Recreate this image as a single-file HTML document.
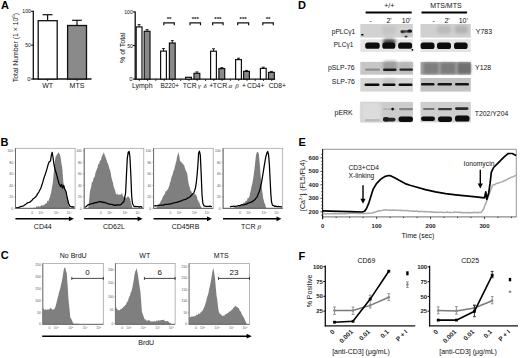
<!DOCTYPE html>
<html><head><meta charset="utf-8"><style>
html,body{margin:0;padding:0;background:#fff;}
body{width:520px;height:358px;overflow:hidden;}
svg{display:block;font-family:"Liberation Sans", sans-serif;}
</style></head><body>
<svg width="520" height="358" viewBox="0 0 520 358">
<defs>
<filter id="b1" x="-20%" y="-100%" width="140%" height="300%"><feGaussianBlur stdDeviation="0.75"/></filter>
<filter id="b15" x="-20%" y="-50%" width="140%" height="200%"><feGaussianBlur stdDeviation="1.0"/></filter>
<filter id="b2" x="-20%" y="-50%" width="140%" height="200%"><feGaussianBlur stdDeviation="1.4"/></filter>
</defs>
<rect width="520" height="358" fill="#fff"/>
<text x="0.90" y="8.60" font-size="11" text-anchor="start" font-weight="bold" fill="#000" >A</text>
<text x="0.40" y="145.50" font-size="11" text-anchor="start" font-weight="bold" fill="#000" >B</text>
<text x="0.70" y="259.40" font-size="11" text-anchor="start" font-weight="bold" fill="#000" >C</text>
<text x="297.90" y="8.60" font-size="11" text-anchor="start" font-weight="bold" fill="#000" >D</text>
<text x="298.40" y="145.50" font-size="11" text-anchor="start" font-weight="bold" fill="#000" >E</text>
<text x="298.40" y="260.30" font-size="11" text-anchor="start" font-weight="bold" fill="#000" >F</text>
<line x1="33.30" y1="10.80" x2="33.30" y2="79.60" stroke="#111" stroke-width="1.3" />
<line x1="32.80" y1="79.00" x2="91.50" y2="79.00" stroke="#111" stroke-width="1.3" />
<line x1="31.10" y1="11.30" x2="33.30" y2="11.30" stroke="#111" stroke-width="1.1" />
<line x1="31.10" y1="45.15" x2="33.30" y2="45.15" stroke="#111" stroke-width="1.1" />
<line x1="31.10" y1="79.00" x2="33.30" y2="79.00" stroke="#111" stroke-width="1.1" />
<text x="30.90" y="13.20" font-size="6.2" text-anchor="end" font-weight="normal" fill="#111"  textLength="8.60" lengthAdjust="spacingAndGlyphs">100</text>
<text x="30.90" y="47.45" font-size="6.2" text-anchor="end" font-weight="normal" fill="#111"  textLength="5.60" lengthAdjust="spacingAndGlyphs">50</text>
<text x="30.70" y="81.10" font-size="6.0" text-anchor="end" font-weight="normal" fill="#111" >0</text>
<rect x="38.20" y="20.70" width="19.00" height="58.30" fill="#fff" stroke="#111" stroke-width="1.3" />
<line x1="47.60" y1="20.70" x2="47.60" y2="14.70" stroke="#111" stroke-width="1.2" />
<line x1="42.60" y1="14.70" x2="52.50" y2="14.70" stroke="#111" stroke-width="1.2" />
<rect x="67.60" y="25.50" width="18.90" height="53.50" fill="#8a8a8a" stroke="#111" stroke-width="1.3" />
<line x1="77.00" y1="25.50" x2="77.00" y2="20.30" stroke="#111" stroke-width="1.2" />
<line x1="72.10" y1="20.30" x2="81.80" y2="20.30" stroke="#111" stroke-width="1.2" />
<line x1="47.60" y1="79.00" x2="47.60" y2="80.80" stroke="#111" stroke-width="1" />
<line x1="77.00" y1="79.00" x2="77.00" y2="80.80" stroke="#111" stroke-width="1" />
<text x="47.60" y="87.50" font-size="7" text-anchor="middle" font-weight="normal" fill="#111" >WT</text>
<text x="77.00" y="87.50" font-size="7" text-anchor="middle" font-weight="normal" fill="#111" >MTS</text>
<text x="0.00" y="0.00" font-size="6.9" text-anchor="middle" font-weight="normal" fill="#111" transform="translate(17.7,47.6) rotate(-90)">Total Number (1 &#215; 10<tspan font-size="4.4" dy="-3.0">6</tspan><tspan dy="3.0">)</tspan></text>
<line x1="135.20" y1="11.40" x2="135.20" y2="79.70" stroke="#111" stroke-width="1.3" />
<line x1="134.70" y1="79.10" x2="275.20" y2="79.10" stroke="#111" stroke-width="1.3" />
<line x1="133.00" y1="11.90" x2="135.20" y2="11.90" stroke="#111" stroke-width="1.1" />
<line x1="133.00" y1="45.50" x2="135.20" y2="45.50" stroke="#111" stroke-width="1.1" />
<line x1="133.00" y1="79.10" x2="135.20" y2="79.10" stroke="#111" stroke-width="1.1" />
<text x="132.80" y="13.90" font-size="6.2" text-anchor="end" font-weight="normal" fill="#111"  textLength="8.60" lengthAdjust="spacingAndGlyphs">100</text>
<text x="132.80" y="47.70" font-size="6.2" text-anchor="end" font-weight="normal" fill="#111"  textLength="5.60" lengthAdjust="spacingAndGlyphs">50</text>
<text x="132.60" y="81.20" font-size="6.0" text-anchor="end" font-weight="normal" fill="#111" >0</text>
<text x="0.00" y="0.00" font-size="7.3" text-anchor="middle" font-weight="normal" fill="#111" transform="translate(124.9,47.7) rotate(-90)" textLength="30.40" lengthAdjust="spacingAndGlyphs">% of Total</text>
<rect x="136.20" y="26.90" width="5.80" height="52.20" fill="#fff" stroke="#111" stroke-width="1.2" />
<rect x="144.20" y="31.30" width="5.80" height="47.80" fill="#8a8a8a" stroke="#111" stroke-width="1.2" />
<line x1="139.10" y1="26.90" x2="139.10" y2="24.60" stroke="#111" stroke-width="0.9" />
<line x1="137.60" y1="24.60" x2="140.60" y2="24.60" stroke="#111" stroke-width="0.9" />
<line x1="147.10" y1="31.30" x2="147.10" y2="29.60" stroke="#111" stroke-width="0.9" />
<line x1="145.60" y1="29.60" x2="148.60" y2="29.60" stroke="#111" stroke-width="0.9" />
<rect x="160.60" y="51.10" width="5.80" height="28.00" fill="#fff" stroke="#111" stroke-width="1.2" />
<rect x="169.40" y="43.00" width="5.80" height="36.10" fill="#8a8a8a" stroke="#111" stroke-width="1.2" />
<line x1="163.50" y1="51.10" x2="163.50" y2="48.60" stroke="#111" stroke-width="0.9" />
<line x1="162.00" y1="48.60" x2="165.00" y2="48.60" stroke="#111" stroke-width="0.9" />
<line x1="172.30" y1="43.00" x2="172.30" y2="40.60" stroke="#111" stroke-width="0.9" />
<line x1="170.80" y1="40.60" x2="173.80" y2="40.60" stroke="#111" stroke-width="0.9" />
<rect x="185.60" y="77.30" width="5.80" height="1.80" fill="#fff" stroke="#111" stroke-width="1.2" />
<rect x="194.00" y="73.30" width="5.80" height="5.80" fill="#8a8a8a" stroke="#111" stroke-width="1.2" />
<line x1="196.90" y1="73.30" x2="196.90" y2="71.90" stroke="#111" stroke-width="0.9" />
<line x1="195.40" y1="71.90" x2="198.40" y2="71.90" stroke="#111" stroke-width="0.9" />
<rect x="210.60" y="51.20" width="5.80" height="27.90" fill="#fff" stroke="#111" stroke-width="1.2" />
<rect x="218.90" y="68.60" width="5.80" height="10.50" fill="#8a8a8a" stroke="#111" stroke-width="1.2" />
<line x1="213.50" y1="51.20" x2="213.50" y2="48.80" stroke="#111" stroke-width="0.9" />
<line x1="212.00" y1="48.80" x2="215.00" y2="48.80" stroke="#111" stroke-width="0.9" />
<line x1="221.80" y1="68.60" x2="221.80" y2="67.60" stroke="#111" stroke-width="0.9" />
<line x1="220.30" y1="67.60" x2="223.30" y2="67.60" stroke="#111" stroke-width="0.9" />
<rect x="235.60" y="59.60" width="5.80" height="19.50" fill="#fff" stroke="#111" stroke-width="1.2" />
<rect x="243.60" y="71.40" width="5.80" height="7.70" fill="#8a8a8a" stroke="#111" stroke-width="1.2" />
<line x1="238.50" y1="59.60" x2="238.50" y2="58.20" stroke="#111" stroke-width="0.9" />
<line x1="237.00" y1="58.20" x2="240.00" y2="58.20" stroke="#111" stroke-width="0.9" />
<line x1="246.50" y1="71.40" x2="246.50" y2="70.40" stroke="#111" stroke-width="0.9" />
<line x1="245.00" y1="70.40" x2="248.00" y2="70.40" stroke="#111" stroke-width="0.9" />
<rect x="260.40" y="68.40" width="5.80" height="10.70" fill="#fff" stroke="#111" stroke-width="1.2" />
<rect x="268.50" y="72.40" width="5.80" height="6.70" fill="#8a8a8a" stroke="#111" stroke-width="1.2" />
<line x1="263.30" y1="68.40" x2="263.30" y2="67.20" stroke="#111" stroke-width="0.9" />
<line x1="261.80" y1="67.20" x2="264.80" y2="67.20" stroke="#111" stroke-width="0.9" />
<line x1="271.40" y1="72.40" x2="271.40" y2="71.40" stroke="#111" stroke-width="0.9" />
<line x1="269.90" y1="71.40" x2="272.90" y2="71.40" stroke="#111" stroke-width="0.9" />
<line x1="139.30" y1="79.10" x2="139.30" y2="80.90" stroke="#111" stroke-width="0.9" />
<line x1="147.58" y1="79.10" x2="147.58" y2="80.90" stroke="#111" stroke-width="0.9" />
<line x1="155.86" y1="79.10" x2="155.86" y2="80.90" stroke="#111" stroke-width="0.9" />
<line x1="164.14" y1="79.10" x2="164.14" y2="80.90" stroke="#111" stroke-width="0.9" />
<line x1="172.42" y1="79.10" x2="172.42" y2="80.90" stroke="#111" stroke-width="0.9" />
<line x1="180.70" y1="79.10" x2="180.70" y2="80.90" stroke="#111" stroke-width="0.9" />
<line x1="188.98" y1="79.10" x2="188.98" y2="80.90" stroke="#111" stroke-width="0.9" />
<line x1="197.26" y1="79.10" x2="197.26" y2="80.90" stroke="#111" stroke-width="0.9" />
<line x1="205.54" y1="79.10" x2="205.54" y2="80.90" stroke="#111" stroke-width="0.9" />
<line x1="213.82" y1="79.10" x2="213.82" y2="80.90" stroke="#111" stroke-width="0.9" />
<line x1="222.10" y1="79.10" x2="222.10" y2="80.90" stroke="#111" stroke-width="0.9" />
<line x1="230.38" y1="79.10" x2="230.38" y2="80.90" stroke="#111" stroke-width="0.9" />
<line x1="238.66" y1="79.10" x2="238.66" y2="80.90" stroke="#111" stroke-width="0.9" />
<line x1="246.94" y1="79.10" x2="246.94" y2="80.90" stroke="#111" stroke-width="0.9" />
<line x1="255.22" y1="79.10" x2="255.22" y2="80.90" stroke="#111" stroke-width="0.9" />
<line x1="263.50" y1="79.10" x2="263.50" y2="80.90" stroke="#111" stroke-width="0.9" />
<line x1="271.78" y1="79.10" x2="271.78" y2="80.90" stroke="#111" stroke-width="0.9" />
<path d="M163.80,25.2 L163.80,22.9 L174.30,22.9 L174.30,25.2" fill="none" stroke="#111" stroke-width="1.2" />
<text x="169.05" y="21.20" font-size="6.2" text-anchor="middle" font-weight="bold" fill="#111" >**</text>
<path d="M190.00,25.2 L190.00,22.9 L200.50,22.9 L200.50,25.2" fill="none" stroke="#111" stroke-width="1.2" />
<text x="195.25" y="21.20" font-size="6.2" text-anchor="middle" font-weight="bold" fill="#111" >***</text>
<path d="M212.60,25.2 L212.60,22.9 L223.10,22.9 L223.10,25.2" fill="none" stroke="#111" stroke-width="1.2" />
<text x="217.85" y="21.20" font-size="6.2" text-anchor="middle" font-weight="bold" fill="#111" >***</text>
<path d="M237.70,25.2 L237.70,22.9 L248.60,22.9 L248.60,25.2" fill="none" stroke="#111" stroke-width="1.2" />
<text x="243.15" y="21.20" font-size="6.2" text-anchor="middle" font-weight="bold" fill="#111" >***</text>
<path d="M262.80,25.2 L262.80,22.9 L273.30,22.9 L273.30,25.2" fill="none" stroke="#111" stroke-width="1.2" />
<text x="268.05" y="21.20" font-size="6.2" text-anchor="middle" font-weight="bold" fill="#111" >**</text>
<text x="132.00" y="87.70" font-size="6.8" text-anchor="start" font-weight="normal" fill="#111"  textLength="20.60" lengthAdjust="spacingAndGlyphs">Lymph</text>
<text x="160.40" y="87.70" font-size="6.8" text-anchor="start" font-weight="normal" fill="#111"  textLength="18.60" lengthAdjust="spacingAndGlyphs">B220+</text>
<text x="182.70" y="87.70" font-size="6.8" text-anchor="start" font-weight="normal" fill="#111"  textLength="14.00" lengthAdjust="spacingAndGlyphs">TCR</text>
<text x="198.10" y="87.70" font-size="7" text-anchor="start" font-weight="normal" fill="#222" font-family="Liberation Serif" font-style="italic">&#947;</text>
<text x="203.60" y="87.70" font-size="7" text-anchor="start" font-weight="normal" fill="#222" font-family="Liberation Serif" font-style="italic">&#948;</text>
<text x="209.30" y="87.70" font-size="6.8" text-anchor="start" font-weight="normal" fill="#111" >+</text>
<text x="212.80" y="87.70" font-size="6.8" text-anchor="start" font-weight="normal" fill="#111"  textLength="14.40" lengthAdjust="spacingAndGlyphs">TCR</text>
<text x="228.50" y="87.70" font-size="7" text-anchor="start" font-weight="normal" fill="#222" font-family="Liberation Serif" font-style="italic">&#945;</text>
<text x="235.30" y="87.70" font-size="7" text-anchor="start" font-weight="normal" fill="#222" font-family="Liberation Serif" font-style="italic">&#946;</text>
<text x="242.10" y="87.70" font-size="6.8" text-anchor="start" font-weight="normal" fill="#111" >+</text>
<text x="247.10" y="87.70" font-size="6.8" text-anchor="start" font-weight="normal" fill="#111"  textLength="17.40" lengthAdjust="spacingAndGlyphs">CD4+</text>
<text x="268.70" y="87.70" font-size="6.8" text-anchor="start" font-weight="normal" fill="#111"  textLength="17.30" lengthAdjust="spacingAndGlyphs">CD8+</text>
<path d="M33.00,208.30 L33.50,207.47 L34.00,208.11 L34.50,207.51 L35.00,207.97 L35.50,207.88 L36.00,207.40 L36.52,206.09 L37.03,205.78 L37.55,207.75 L38.06,206.07 L38.58,205.82 L39.09,207.63 L39.61,206.08 L40.12,206.86 L40.64,205.75 L41.15,205.99 L41.67,204.55 L42.18,205.63 L42.70,205.10 L43.20,205.81 L43.70,204.67 L44.20,205.00 L44.70,204.57 L45.20,202.75 L45.70,204.31 L46.20,203.40 L46.72,202.96 L47.24,201.52 L47.76,200.14 L48.28,201.63 L48.80,200.00 L49.37,198.20 L49.93,197.10 L50.50,194.80 L51.07,192.88 L51.63,189.56 L52.20,186.10 L52.70,183.64 L53.20,179.00 L53.70,173.06 L54.20,168.45 L54.70,162.00 L55.25,158.86 L55.80,156.00 L56.40,155.88 L57.00,153.50 L57.60,154.24 L58.20,153.00 L58.70,152.25 L59.20,153.60 L59.73,154.25 L60.27,156.06 L60.80,158.40 L61.50,163.91 L62.20,167.00 L62.80,174.68 L63.40,182.70 L63.95,184.75 L64.50,185.63 L65.05,187.89 L65.60,189.60 L66.12,191.90 L66.65,194.41 L67.17,197.62 L67.70,200.00 L68.30,202.52 L68.90,205.65 L69.50,206.90 L70.00,208.07 L70.50,208.30 Z" fill="#7f7f7f" stroke="none" stroke-width="1" />
<path d="M15.90,207.70 L16.76,207.84 L17.62,207.63 L18.48,207.56 L19.34,207.18 L20.20,206.90 L21.06,206.30 L21.92,206.43 L22.78,206.15 L23.64,205.74 L24.50,205.10 L25.37,204.48 L26.23,203.92 L27.10,203.10 L28.00,202.60 L28.90,202.50 L29.77,202.17 L30.63,201.42 L31.50,200.80 L32.33,199.78 L33.17,198.76 L34.00,198.20 L34.87,197.58 L35.73,196.81 L36.60,195.60 L37.47,193.88 L38.33,192.94 L39.20,191.30 L40.10,189.49 L41.00,187.80 L41.85,184.96 L42.70,182.60 L43.55,179.46 L44.40,176.60 L45.30,174.19 L46.20,171.40 L47.05,168.61 L47.90,165.30 L49.10,161.90 L50.50,161.00 L51.40,154.90 L52.20,152.30 L53.10,158.00 L54.00,164.50 L55.20,170.00 L56.50,174.00 L58.00,180.00 L59.00,183.50 L60.50,186.50 L61.50,184.50 L62.50,188.00 L63.60,185.50 L64.60,189.00 L66.00,191.30 L67.20,197.50 L68.60,203.50 L70.00,206.20 L71.20,206.90 L72.03,206.66 L72.85,207.13 L73.67,206.81 L74.50,207.20" fill="none" stroke="#000" stroke-width="1.25" stroke-linejoin="round"/>
<rect x="15.50" y="148.30" width="59.60" height="60.00" fill="none" stroke="#9a9a9a" stroke-width="0.7" />
<line x1="15.50" y1="148.30" x2="15.50" y2="208.30" stroke="#555" stroke-width="0.8" />
<line x1="15.50" y1="208.30" x2="75.10" y2="208.30" stroke="#444" stroke-width="0.8" />
<text x="13.00" y="152.00" font-size="3.3" text-anchor="end" font-weight="normal" fill="#555" >100</text>
<line x1="14.30" y1="150.80" x2="15.50" y2="150.80" stroke="#666" stroke-width="0.5" />
<text x="13.00" y="163.52" font-size="3.3" text-anchor="end" font-weight="normal" fill="#555" >80</text>
<line x1="14.30" y1="162.32" x2="15.50" y2="162.32" stroke="#666" stroke-width="0.5" />
<text x="13.00" y="175.04" font-size="3.3" text-anchor="end" font-weight="normal" fill="#555" >60</text>
<line x1="14.30" y1="173.84" x2="15.50" y2="173.84" stroke="#666" stroke-width="0.5" />
<text x="13.00" y="186.56" font-size="3.3" text-anchor="end" font-weight="normal" fill="#555" >40</text>
<line x1="14.30" y1="185.36" x2="15.50" y2="185.36" stroke="#666" stroke-width="0.5" />
<text x="13.00" y="198.08" font-size="3.3" text-anchor="end" font-weight="normal" fill="#555" >20</text>
<line x1="14.30" y1="196.88" x2="15.50" y2="196.88" stroke="#666" stroke-width="0.5" />
<text x="13.00" y="209.60" font-size="3.3" text-anchor="end" font-weight="normal" fill="#555" >0</text>
<line x1="14.30" y1="208.40" x2="15.50" y2="208.40" stroke="#666" stroke-width="0.5" />
<text x="32.20" y="214.00" font-size="3.3" text-anchor="middle" font-weight="normal" fill="#666" >0</text>
<text x="41.00" y="214.00" font-size="3.3" text-anchor="middle" font-weight="normal" fill="#666" >10<tspan font-size="2.2" dy="-1">2</tspan></text>
<text x="56.40" y="214.00" font-size="3.3" text-anchor="middle" font-weight="normal" fill="#666" >10<tspan font-size="2.2" dy="-1">3</tspan></text>
<text x="69.20" y="214.00" font-size="3.3" text-anchor="middle" font-weight="normal" fill="#666" >10<tspan font-size="2.2" dy="-1">4</tspan></text>
<line x1="15.40" y1="218.80" x2="70.40" y2="218.80" stroke="#000" stroke-width="1.6" />
<path d="M73.90,218.8 L68.90,216.4 L68.90,221.2 Z" fill="#000" stroke="none" stroke-width="1" />
<path d="M88.30,208.30 L88.90,202.93 L89.50,195.99 L90.10,190.50 L90.67,188.89 L91.23,186.55 L91.80,182.70 L92.32,181.67 L92.84,181.92 L93.36,179.09 L93.88,177.44 L94.40,177.50 L94.92,176.02 L95.44,172.80 L95.96,171.49 L96.48,170.30 L97.00,168.80 L97.52,167.71 L98.04,165.15 L98.56,163.47 L99.08,164.24 L99.60,161.90 L100.12,160.20 L100.64,160.65 L101.16,159.27 L101.68,156.70 L102.20,155.80 L102.77,154.53 L103.33,153.52 L103.90,152.30 L104.50,154.41 L105.10,156.02 L105.70,157.50 L106.22,159.05 L106.74,160.61 L107.26,162.85 L107.78,163.12 L108.30,164.50 L108.82,166.22 L109.34,168.87 L109.86,169.52 L110.38,171.58 L110.90,174.00 L111.42,177.66 L111.94,178.89 L112.46,181.39 L112.98,182.41 L113.50,186.10 L114.02,187.44 L114.54,189.43 L115.06,189.53 L115.58,192.64 L116.10,193.90 L116.62,194.42 L117.14,193.12 L117.66,194.77 L118.18,194.53 L118.70,194.80 L119.22,195.09 L119.74,194.06 L120.26,194.80 L120.78,194.70 L121.30,193.90 L121.82,193.18 L122.34,193.80 L122.86,195.92 L123.38,197.18 L123.90,196.50 L124.42,196.21 L124.94,197.11 L125.46,197.82 L125.98,197.47 L126.50,198.30 L127.07,197.35 L127.63,196.61 L128.20,196.50 L128.77,196.76 L129.33,197.95 L129.90,198.30 L130.50,200.38 L131.10,203.50 L131.80,205.58 L132.50,208.30 Z" fill="#7f7f7f" stroke="none" stroke-width="1" />
<path d="M84.60,207.20 L85.70,206.80 L86.58,206.37 L87.45,205.22 L88.33,204.97 L89.20,204.30 L90.07,204.26 L90.93,203.77 L91.80,203.51 L92.67,203.71 L93.53,203.12 L94.40,203.10 L95.27,202.65 L96.13,202.59 L97.00,202.54 L97.87,201.89 L98.73,201.81 L99.60,201.70 L100.47,201.68 L101.35,202.13 L102.22,201.96 L103.10,202.10 L103.95,202.60 L104.80,202.37 L105.65,202.74 L106.50,203.10 L107.38,203.51 L108.25,203.97 L109.12,203.97 L110.00,204.30 L110.87,204.26 L111.73,204.33 L112.60,204.77 L113.47,204.68 L114.33,205.26 L115.20,205.20 L116.07,205.37 L116.93,204.85 L117.80,204.85 L118.67,205.15 L119.53,204.97 L120.40,204.80 L121.28,204.24 L122.15,203.14 L123.03,202.22 L123.90,201.70 L124.75,197.25 L125.60,193.10 L126.50,174.00 L127.30,158.40 L128.20,152.30 L129.10,151.50 L129.90,156.70 L130.80,174.00 L131.70,196.50 L132.50,203.50 L133.40,205.26 L134.30,206.60 L135.12,206.48 L135.94,206.57 L136.76,206.66 L137.58,206.70 L138.40,206.74 L139.22,207.13 L140.04,206.64 L140.86,206.57 L141.68,207.27 L142.50,207.00" fill="none" stroke="#000" stroke-width="1.25" stroke-linejoin="round"/>
<rect x="84.20" y="148.30" width="59.60" height="60.00" fill="none" stroke="#9a9a9a" stroke-width="0.7" />
<line x1="84.20" y1="148.30" x2="84.20" y2="208.30" stroke="#555" stroke-width="0.8" />
<line x1="84.20" y1="208.30" x2="143.80" y2="208.30" stroke="#444" stroke-width="0.8" />
<text x="81.70" y="152.00" font-size="3.3" text-anchor="end" font-weight="normal" fill="#555" >100</text>
<line x1="83.00" y1="150.80" x2="84.20" y2="150.80" stroke="#666" stroke-width="0.5" />
<text x="81.70" y="163.52" font-size="3.3" text-anchor="end" font-weight="normal" fill="#555" >80</text>
<line x1="83.00" y1="162.32" x2="84.20" y2="162.32" stroke="#666" stroke-width="0.5" />
<text x="81.70" y="175.04" font-size="3.3" text-anchor="end" font-weight="normal" fill="#555" >60</text>
<line x1="83.00" y1="173.84" x2="84.20" y2="173.84" stroke="#666" stroke-width="0.5" />
<text x="81.70" y="186.56" font-size="3.3" text-anchor="end" font-weight="normal" fill="#555" >40</text>
<line x1="83.00" y1="185.36" x2="84.20" y2="185.36" stroke="#666" stroke-width="0.5" />
<text x="81.70" y="198.08" font-size="3.3" text-anchor="end" font-weight="normal" fill="#555" >20</text>
<line x1="83.00" y1="196.88" x2="84.20" y2="196.88" stroke="#666" stroke-width="0.5" />
<text x="81.70" y="209.60" font-size="3.3" text-anchor="end" font-weight="normal" fill="#555" >0</text>
<line x1="83.00" y1="208.40" x2="84.20" y2="208.40" stroke="#666" stroke-width="0.5" />
<text x="100.90" y="214.00" font-size="3.3" text-anchor="middle" font-weight="normal" fill="#666" >0</text>
<text x="109.70" y="214.00" font-size="3.3" text-anchor="middle" font-weight="normal" fill="#666" >10<tspan font-size="2.2" dy="-1">2</tspan></text>
<text x="125.10" y="214.00" font-size="3.3" text-anchor="middle" font-weight="normal" fill="#666" >10<tspan font-size="2.2" dy="-1">3</tspan></text>
<text x="137.90" y="214.00" font-size="3.3" text-anchor="middle" font-weight="normal" fill="#666" >10<tspan font-size="2.2" dy="-1">4</tspan></text>
<line x1="84.10" y1="218.80" x2="139.10" y2="218.80" stroke="#000" stroke-width="1.6" />
<path d="M142.60,218.8 L137.60,216.4 L137.60,221.2 Z" fill="#000" stroke="none" stroke-width="1" />
<path d="M155.60,208.30 L156.11,208.60 L156.62,208.18 L157.12,206.05 L157.63,206.70 L158.14,205.95 L158.65,203.43 L159.16,204.10 L159.67,203.64 L160.17,202.50 L160.68,201.43 L161.19,200.14 L161.70,200.00 L162.24,198.50 L162.77,197.12 L163.31,195.61 L163.85,195.88 L164.39,194.01 L164.93,194.28 L165.46,191.20 L166.00,191.30 L166.50,191.49 L167.00,190.09 L167.50,189.83 L168.00,188.90 L168.50,188.05 L169.00,186.36 L169.50,185.30 L170.02,182.11 L170.54,182.10 L171.06,178.69 L171.58,177.10 L172.10,175.70 L172.62,174.40 L173.14,172.32 L173.66,170.32 L174.18,169.96 L174.70,167.10 L175.27,165.36 L175.83,162.62 L176.40,161.00 L177.00,157.31 L177.60,154.90 L178.10,154.29 L178.60,151.80 L179.25,155.89 L179.90,160.10 L180.47,161.70 L181.03,161.45 L181.60,162.70 L182.12,162.43 L182.64,163.83 L183.16,165.08 L183.68,163.93 L184.20,165.30 L184.72,167.46 L185.24,169.20 L185.76,170.30 L186.28,171.74 L186.80,172.30 L187.37,174.49 L187.93,179.57 L188.50,182.70 L189.10,186.24 L189.70,186.73 L190.30,190.50 L190.82,190.59 L191.34,191.26 L191.86,192.61 L192.38,193.02 L192.90,193.90 L193.42,194.01 L193.94,194.98 L194.46,193.14 L194.98,193.46 L195.50,194.80 L196.02,194.87 L196.54,195.90 L197.06,196.80 L197.58,200.19 L198.10,200.00 L198.67,202.35 L199.23,201.79 L199.80,204.30 L200.37,205.64 L200.93,206.49 L201.50,208.30 Z" fill="#7f7f7f" stroke="none" stroke-width="1" />
<path d="M153.90,206.00 L154.77,205.78 L155.63,205.72 L156.50,205.84 L157.37,205.71 L158.23,205.46 L159.10,205.25 L159.97,205.26 L160.83,205.03 L161.70,205.20 L162.56,205.10 L163.42,205.07 L164.28,204.70 L165.14,204.35 L166.00,204.27 L166.86,204.27 L167.72,204.29 L168.58,204.28 L169.44,203.86 L170.30,203.80 L171.17,203.80 L172.04,203.47 L172.91,203.12 L173.78,202.87 L174.65,202.75 L175.52,202.68 L176.39,202.27 L177.26,202.26 L178.13,201.88 L179.00,201.70 L179.86,201.20 L180.72,201.08 L181.59,200.86 L182.45,200.10 L183.31,200.02 L184.18,199.70 L185.04,199.69 L185.90,199.10 L186.78,198.89 L187.66,197.97 L188.54,197.82 L189.42,197.22 L190.30,196.50 L191.15,195.48 L192.00,194.77 L192.85,193.69 L193.70,193.10 L194.60,190.72 L195.50,187.90 L196.30,182.70 L197.20,174.00 L198.10,161.90 L198.60,153.20 L199.40,151.10 L200.30,154.90 L201.20,174.00 L202.00,194.80 L202.90,203.50 L204.10,206.00 L204.97,206.17 L205.83,206.38 L206.70,206.37 L207.57,206.34 L208.43,206.44 L209.30,206.38 L210.17,206.11 L211.03,206.51 L211.90,206.50" fill="none" stroke="#000" stroke-width="1.25" stroke-linejoin="round"/>
<rect x="153.60" y="148.30" width="59.60" height="60.00" fill="none" stroke="#9a9a9a" stroke-width="0.7" />
<line x1="153.60" y1="148.30" x2="153.60" y2="208.30" stroke="#555" stroke-width="0.8" />
<line x1="153.60" y1="208.30" x2="213.20" y2="208.30" stroke="#444" stroke-width="0.8" />
<text x="151.10" y="152.00" font-size="3.3" text-anchor="end" font-weight="normal" fill="#555" >100</text>
<line x1="152.40" y1="150.80" x2="153.60" y2="150.80" stroke="#666" stroke-width="0.5" />
<text x="151.10" y="163.52" font-size="3.3" text-anchor="end" font-weight="normal" fill="#555" >80</text>
<line x1="152.40" y1="162.32" x2="153.60" y2="162.32" stroke="#666" stroke-width="0.5" />
<text x="151.10" y="175.04" font-size="3.3" text-anchor="end" font-weight="normal" fill="#555" >60</text>
<line x1="152.40" y1="173.84" x2="153.60" y2="173.84" stroke="#666" stroke-width="0.5" />
<text x="151.10" y="186.56" font-size="3.3" text-anchor="end" font-weight="normal" fill="#555" >40</text>
<line x1="152.40" y1="185.36" x2="153.60" y2="185.36" stroke="#666" stroke-width="0.5" />
<text x="151.10" y="198.08" font-size="3.3" text-anchor="end" font-weight="normal" fill="#555" >20</text>
<line x1="152.40" y1="196.88" x2="153.60" y2="196.88" stroke="#666" stroke-width="0.5" />
<text x="151.10" y="209.60" font-size="3.3" text-anchor="end" font-weight="normal" fill="#555" >0</text>
<line x1="152.40" y1="208.40" x2="153.60" y2="208.40" stroke="#666" stroke-width="0.5" />
<text x="170.30" y="214.00" font-size="3.3" text-anchor="middle" font-weight="normal" fill="#666" >0</text>
<text x="179.10" y="214.00" font-size="3.3" text-anchor="middle" font-weight="normal" fill="#666" >10<tspan font-size="2.2" dy="-1">2</tspan></text>
<text x="194.50" y="214.00" font-size="3.3" text-anchor="middle" font-weight="normal" fill="#666" >10<tspan font-size="2.2" dy="-1">3</tspan></text>
<text x="207.30" y="214.00" font-size="3.3" text-anchor="middle" font-weight="normal" fill="#666" >10<tspan font-size="2.2" dy="-1">4</tspan></text>
<line x1="153.50" y1="218.80" x2="208.50" y2="218.80" stroke="#000" stroke-width="1.6" />
<path d="M212.00,218.8 L207.00,216.4 L207.00,221.2 Z" fill="#000" stroke="none" stroke-width="1" />
<path d="M233.40,208.30 L233.93,206.77 L234.46,206.90 L234.99,208.30 L235.52,206.16 L236.05,206.05 L236.58,205.83 L237.12,207.62 L237.65,205.56 L238.18,204.91 L238.71,206.80 L239.24,204.69 L239.77,206.33 L240.30,205.20 L240.82,205.30 L241.34,205.37 L241.86,205.33 L242.38,204.01 L242.90,204.23 L243.42,201.89 L243.94,203.45 L244.46,202.43 L244.98,202.61 L245.50,201.70 L246.00,200.06 L246.50,201.12 L247.00,200.99 L247.50,198.10 L248.00,198.17 L248.50,198.18 L249.00,197.40 L249.57,196.22 L250.13,192.66 L250.70,191.30 L251.30,187.60 L251.90,184.92 L252.50,182.70 L253.15,178.65 L253.80,174.00 L254.45,169.46 L255.10,163.60 L255.90,155.80 L256.80,152.30 L257.70,151.80 L258.30,152.67 L258.90,154.10 L259.70,163.60 L260.25,170.21 L260.80,177.50 L261.40,183.28 L262.00,189.60 L262.60,193.56 L263.20,198.30 L263.90,200.69 L264.60,203.50 L265.17,204.02 L265.73,206.70 L266.30,208.30 Z" fill="#7f7f7f" stroke="none" stroke-width="1" />
<path d="M229.90,206.50 L230.78,206.77 L231.65,206.31 L232.53,206.49 L233.40,206.01 L234.28,206.32 L235.15,206.30 L236.03,206.18 L236.90,206.00 L237.76,205.84 L238.62,205.65 L239.48,205.59 L240.34,205.60 L241.20,204.90 L242.06,204.70 L242.92,204.98 L243.78,204.93 L244.64,204.48 L245.50,204.30 L246.38,203.94 L247.25,203.80 L248.12,203.11 L249.00,202.84 L249.88,202.46 L250.75,202.41 L251.62,201.90 L252.50,201.70 L253.36,200.65 L254.22,200.11 L255.08,199.44 L255.94,198.12 L256.80,197.40 L257.67,195.51 L258.53,193.27 L259.40,191.30 L260.45,187.25 L261.50,182.70 L262.35,177.56 L263.20,172.30 L264.60,163.60 L265.80,156.70 L267.20,152.30 L267.70,151.50 L268.60,154.90 L269.40,165.30 L270.10,179.20 L270.80,193.10 L271.50,201.70 L272.40,205.20 L273.27,205.47 L274.13,205.87 L275.00,206.50 L275.88,206.20 L276.75,206.56 L277.62,206.53 L278.50,206.42 L279.38,206.59 L280.25,206.60 L281.12,206.95 L282.00,206.80" fill="none" stroke="#000" stroke-width="1.25" stroke-linejoin="round"/>
<rect x="223.10" y="148.30" width="59.60" height="60.00" fill="none" stroke="#9a9a9a" stroke-width="0.7" />
<line x1="223.10" y1="148.30" x2="223.10" y2="208.30" stroke="#555" stroke-width="0.8" />
<line x1="223.10" y1="208.30" x2="282.70" y2="208.30" stroke="#444" stroke-width="0.8" />
<text x="220.60" y="152.00" font-size="3.3" text-anchor="end" font-weight="normal" fill="#555" >100</text>
<line x1="221.90" y1="150.80" x2="223.10" y2="150.80" stroke="#666" stroke-width="0.5" />
<text x="220.60" y="163.52" font-size="3.3" text-anchor="end" font-weight="normal" fill="#555" >80</text>
<line x1="221.90" y1="162.32" x2="223.10" y2="162.32" stroke="#666" stroke-width="0.5" />
<text x="220.60" y="175.04" font-size="3.3" text-anchor="end" font-weight="normal" fill="#555" >60</text>
<line x1="221.90" y1="173.84" x2="223.10" y2="173.84" stroke="#666" stroke-width="0.5" />
<text x="220.60" y="186.56" font-size="3.3" text-anchor="end" font-weight="normal" fill="#555" >40</text>
<line x1="221.90" y1="185.36" x2="223.10" y2="185.36" stroke="#666" stroke-width="0.5" />
<text x="220.60" y="198.08" font-size="3.3" text-anchor="end" font-weight="normal" fill="#555" >20</text>
<line x1="221.90" y1="196.88" x2="223.10" y2="196.88" stroke="#666" stroke-width="0.5" />
<text x="220.60" y="209.60" font-size="3.3" text-anchor="end" font-weight="normal" fill="#555" >0</text>
<line x1="221.90" y1="208.40" x2="223.10" y2="208.40" stroke="#666" stroke-width="0.5" />
<text x="239.80" y="214.00" font-size="3.3" text-anchor="middle" font-weight="normal" fill="#666" >0</text>
<text x="248.60" y="214.00" font-size="3.3" text-anchor="middle" font-weight="normal" fill="#666" >10<tspan font-size="2.2" dy="-1">2</tspan></text>
<text x="264.00" y="214.00" font-size="3.3" text-anchor="middle" font-weight="normal" fill="#666" >10<tspan font-size="2.2" dy="-1">3</tspan></text>
<text x="276.80" y="214.00" font-size="3.3" text-anchor="middle" font-weight="normal" fill="#666" >10<tspan font-size="2.2" dy="-1">4</tspan></text>
<line x1="223.00" y1="218.80" x2="278.00" y2="218.80" stroke="#000" stroke-width="1.6" />
<path d="M281.50,218.8 L276.50,216.4 L276.50,221.2 Z" fill="#000" stroke="none" stroke-width="1" />
<text x="42.80" y="228.90" font-size="7" text-anchor="middle" font-weight="normal" fill="#111" >CD44</text>
<text x="113.90" y="228.90" font-size="7" text-anchor="middle" font-weight="normal" fill="#111" >CD62L</text>
<text x="185.50" y="228.90" font-size="7" text-anchor="middle" font-weight="normal" fill="#111" >CD45RB</text>
<text x="251.00" y="228.90" font-size="7" text-anchor="middle" font-weight="normal" fill="#111" >TCR <tspan font-family="Liberation Serif" font-style="italic">&#946;</tspan></text>
<path d="M42.80,324.30 L42.80,308.60 L43.53,308.26 L44.27,310.08 L45.00,309.50 L45.77,309.53 L46.53,309.81 L47.30,309.70 L47.96,309.32 L48.62,309.66 L49.28,309.32 L49.94,308.52 L50.60,308.10 L51.28,308.39 L51.96,309.14 L52.64,309.70 L53.32,309.20 L54.00,309.70 L54.73,308.25 L55.47,306.80 L56.20,304.10 L56.93,301.07 L57.67,297.68 L58.40,295.20 L59.17,291.76 L59.93,289.66 L60.70,286.30 L61.43,282.88 L62.17,279.66 L62.90,275.10 L64.00,268.40 L65.10,267.30 L65.90,270.74 L66.70,272.90 L67.60,285.00 L68.50,299.60 L69.40,308.09 L70.30,317.50 L70.97,318.34 L71.65,319.87 L72.33,321.14 L73.00,323.10 L73.66,323.59 L74.32,323.99 L74.98,324.18 L75.64,323.14 L76.30,324.36 L76.96,323.48 L77.62,323.80 L78.28,324.47 L78.94,323.43 L79.60,324.30 Z" fill="#7f7f7f" stroke="none" stroke-width="1" />
<rect x="42.80" y="263.50" width="60.50" height="60.80" fill="none" stroke="#9a9a9a" stroke-width="0.7" />
<line x1="42.80" y1="263.50" x2="42.80" y2="324.30" stroke="#666" stroke-width="0.8" />
<line x1="42.80" y1="324.30" x2="103.30" y2="324.30" stroke="#555" stroke-width="0.8" />
<line x1="71.80" y1="278.40" x2="103.30" y2="278.40" stroke="#333" stroke-width="0.9" />
<line x1="71.80" y1="276.90" x2="71.80" y2="279.90" stroke="#333" stroke-width="0.9" />
<line x1="103.30" y1="276.90" x2="103.30" y2="279.90" stroke="#333" stroke-width="0.9" />
<text x="87.55" y="274.50" font-size="8" text-anchor="middle" font-weight="normal" fill="#111" >0</text>
<text x="73.20" y="257.50" font-size="7" text-anchor="middle" font-weight="normal" fill="#111" >No BrdU</text>
<text x="40.80" y="266.20" font-size="3.3" text-anchor="end" font-weight="normal" fill="#555" >250</text>
<line x1="41.80" y1="265.00" x2="42.80" y2="265.00" stroke="#777" stroke-width="0.5" />
<text x="40.80" y="278.04" font-size="3.3" text-anchor="end" font-weight="normal" fill="#555" >200</text>
<line x1="41.80" y1="276.84" x2="42.80" y2="276.84" stroke="#777" stroke-width="0.5" />
<text x="40.80" y="289.88" font-size="3.3" text-anchor="end" font-weight="normal" fill="#555" >150</text>
<line x1="41.80" y1="288.68" x2="42.80" y2="288.68" stroke="#777" stroke-width="0.5" />
<text x="40.80" y="301.72" font-size="3.3" text-anchor="end" font-weight="normal" fill="#555" >100</text>
<line x1="41.80" y1="300.52" x2="42.80" y2="300.52" stroke="#777" stroke-width="0.5" />
<text x="40.80" y="313.56" font-size="3.3" text-anchor="end" font-weight="normal" fill="#555" >50</text>
<line x1="41.80" y1="312.36" x2="42.80" y2="312.36" stroke="#777" stroke-width="0.5" />
<text x="40.80" y="325.40" font-size="3.3" text-anchor="end" font-weight="normal" fill="#555" >0</text>
<line x1="41.80" y1="324.20" x2="42.80" y2="324.20" stroke="#777" stroke-width="0.5" />
<text x="49.50" y="328.70" font-size="3.3" text-anchor="middle" font-weight="normal" fill="#666" >0</text>
<text x="56.20" y="328.70" font-size="3.3" text-anchor="middle" font-weight="normal" fill="#666" >10<tspan font-size="2.2" dy="-1">2</tspan></text>
<text x="70.70" y="328.70" font-size="3.3" text-anchor="middle" font-weight="normal" fill="#666" >10<tspan font-size="2.2" dy="-1">3</tspan></text>
<text x="85.20" y="328.70" font-size="3.3" text-anchor="middle" font-weight="normal" fill="#666" >10<tspan font-size="2.2" dy="-1">4</tspan></text>
<text x="98.60" y="328.70" font-size="3.3" text-anchor="middle" font-weight="normal" fill="#666" >10<tspan font-size="2.2" dy="-1">5</tspan></text>
<path d="M115.40,324.30 L115.40,306.00 L116.05,306.39 L116.70,308.85 L117.35,309.00 L118.00,310.50 L118.68,310.00 L119.36,310.16 L120.04,310.10 L120.72,308.65 L121.40,309.30 L122.06,308.34 L122.72,307.87 L123.38,307.29 L124.04,306.14 L124.70,306.00 L125.38,305.03 L126.06,304.58 L126.74,302.44 L127.42,301.60 L128.10,300.40 L128.76,297.93 L129.42,296.43 L130.08,295.36 L130.74,292.58 L131.40,291.50 L132.17,288.46 L132.93,284.77 L133.70,280.30 L134.45,275.12 L135.20,271.40 L135.90,270.49 L136.60,268.00 L137.35,271.72 L138.10,275.90 L138.87,281.59 L139.63,286.76 L140.40,291.50 L141.15,301.18 L141.90,311.60 L142.62,313.87 L143.35,315.78 L144.08,318.00 L144.80,319.40 L145.45,319.16 L146.10,320.22 L146.75,320.78 L147.40,320.44 L148.05,320.38 L148.70,319.80 L149.35,320.67 L150.00,320.60 L150.65,321.44 L151.30,321.55 L151.95,321.54 L152.60,321.60 L153.20,320.92 L153.80,321.65 L154.40,321.52 L155.00,320.60 L155.60,321.77 L156.20,321.24 L156.80,320.17 L157.40,321.52 L158.00,319.99 L158.60,320.23 L159.20,320.82 L159.80,320.50 L160.40,320.31 L161.00,320.37 L161.60,320.00 L162.21,320.07 L162.82,319.95 L163.43,319.85 L164.04,319.81 L164.65,321.12 L165.25,321.33 L165.86,321.10 L166.47,321.59 L167.08,321.06 L167.69,321.03 L168.30,321.60 L168.96,321.93 L169.62,323.35 L170.28,322.40 L170.94,323.77 L171.60,324.30 Z" fill="#7f7f7f" stroke="none" stroke-width="1" />
<rect x="115.40" y="263.50" width="59.70" height="60.80" fill="none" stroke="#9a9a9a" stroke-width="0.7" />
<line x1="115.40" y1="263.50" x2="115.40" y2="324.30" stroke="#666" stroke-width="0.8" />
<line x1="115.40" y1="324.30" x2="175.10" y2="324.30" stroke="#555" stroke-width="0.8" />
<line x1="144.40" y1="278.40" x2="175.10" y2="278.40" stroke="#333" stroke-width="0.9" />
<line x1="144.40" y1="276.90" x2="144.40" y2="279.90" stroke="#333" stroke-width="0.9" />
<line x1="175.10" y1="276.90" x2="175.10" y2="279.90" stroke="#333" stroke-width="0.9" />
<text x="159.75" y="274.50" font-size="8" text-anchor="middle" font-weight="normal" fill="#111" >6</text>
<text x="144.80" y="257.50" font-size="7" text-anchor="middle" font-weight="normal" fill="#111" >WT</text>
<text x="113.40" y="271.00" font-size="3.3" text-anchor="end" font-weight="normal" fill="#555" >200</text>
<line x1="114.40" y1="269.80" x2="115.40" y2="269.80" stroke="#777" stroke-width="0.5" />
<text x="113.40" y="284.40" font-size="3.3" text-anchor="end" font-weight="normal" fill="#555" >150</text>
<line x1="114.40" y1="283.20" x2="115.40" y2="283.20" stroke="#777" stroke-width="0.5" />
<text x="113.40" y="297.80" font-size="3.3" text-anchor="end" font-weight="normal" fill="#555" >100</text>
<line x1="114.40" y1="296.60" x2="115.40" y2="296.60" stroke="#777" stroke-width="0.5" />
<text x="113.40" y="311.20" font-size="3.3" text-anchor="end" font-weight="normal" fill="#555" >50</text>
<line x1="114.40" y1="310.00" x2="115.40" y2="310.00" stroke="#777" stroke-width="0.5" />
<text x="113.40" y="324.60" font-size="3.3" text-anchor="end" font-weight="normal" fill="#555" >0</text>
<line x1="114.40" y1="323.40" x2="115.40" y2="323.40" stroke="#777" stroke-width="0.5" />
<text x="122.10" y="328.70" font-size="3.3" text-anchor="middle" font-weight="normal" fill="#666" >0</text>
<text x="128.80" y="328.70" font-size="3.3" text-anchor="middle" font-weight="normal" fill="#666" >10<tspan font-size="2.2" dy="-1">2</tspan></text>
<text x="143.30" y="328.70" font-size="3.3" text-anchor="middle" font-weight="normal" fill="#666" >10<tspan font-size="2.2" dy="-1">3</tspan></text>
<text x="157.80" y="328.70" font-size="3.3" text-anchor="middle" font-weight="normal" fill="#666" >10<tspan font-size="2.2" dy="-1">4</tspan></text>
<text x="171.20" y="328.70" font-size="3.3" text-anchor="middle" font-weight="normal" fill="#666" >10<tspan font-size="2.2" dy="-1">5</tspan></text>
<path d="M189.10,324.30 L189.10,317.20 L189.78,316.63 L190.47,317.45 L191.15,316.59 L191.83,316.43 L192.52,316.44 L193.20,316.50 L193.83,316.35 L194.46,316.53 L195.09,315.55 L195.71,316.21 L196.34,314.66 L196.97,314.72 L197.60,314.90 L198.24,313.71 L198.89,313.26 L199.53,313.99 L200.17,313.42 L200.81,311.98 L201.46,311.51 L202.10,311.60 L202.76,309.89 L203.42,308.92 L204.08,307.49 L204.74,305.81 L205.40,303.80 L206.12,301.44 L206.85,298.11 L207.58,296.04 L208.30,293.70 L209.07,289.45 L209.83,286.35 L210.60,282.60 L211.35,278.22 L212.10,273.60 L212.70,270.26 L213.30,268.00 L214.15,272.60 L215.00,278.10 L215.80,287.56 L216.60,296.00 L217.33,300.35 L218.07,306.95 L218.80,311.60 L219.48,313.18 L220.16,314.17 L220.84,314.03 L221.52,315.21 L222.20,316.00 L222.83,315.84 L223.46,315.61 L224.09,315.92 L224.71,315.08 L225.34,314.07 L225.97,314.76 L226.60,313.80 L227.24,313.30 L227.89,313.04 L228.53,312.79 L229.17,311.02 L229.81,311.93 L230.46,311.26 L231.10,310.50 L231.74,309.84 L232.39,309.26 L233.03,308.50 L233.67,307.38 L234.31,307.34 L234.96,305.81 L235.60,306.00 L236.26,306.44 L236.92,307.14 L237.58,307.22 L238.24,307.88 L238.90,308.20 L239.58,310.37 L240.26,311.59 L240.94,311.56 L241.62,314.09 L242.30,314.90 L242.96,316.46 L243.62,316.77 L244.28,318.67 L244.94,319.78 L245.60,321.60 L246.70,324.30 Z" fill="#7f7f7f" stroke="none" stroke-width="1" />
<rect x="189.10" y="263.50" width="60.40" height="60.80" fill="none" stroke="#9a9a9a" stroke-width="0.7" />
<line x1="189.10" y1="263.50" x2="189.10" y2="324.30" stroke="#666" stroke-width="0.8" />
<line x1="189.10" y1="324.30" x2="249.50" y2="324.30" stroke="#555" stroke-width="0.8" />
<line x1="218.50" y1="278.40" x2="249.50" y2="278.40" stroke="#333" stroke-width="0.9" />
<line x1="218.50" y1="276.90" x2="218.50" y2="279.90" stroke="#333" stroke-width="0.9" />
<line x1="249.50" y1="276.90" x2="249.50" y2="279.90" stroke="#333" stroke-width="0.9" />
<text x="234.00" y="274.50" font-size="8" text-anchor="middle" font-weight="normal" fill="#111" >23</text>
<text x="221.20" y="257.50" font-size="7" text-anchor="middle" font-weight="normal" fill="#111" >MTS</text>
<text x="187.10" y="267.70" font-size="3.3" text-anchor="end" font-weight="normal" fill="#555" >250</text>
<line x1="188.10" y1="266.50" x2="189.10" y2="266.50" stroke="#777" stroke-width="0.5" />
<text x="187.10" y="279.20" font-size="3.3" text-anchor="end" font-weight="normal" fill="#555" >200</text>
<line x1="188.10" y1="278.00" x2="189.10" y2="278.00" stroke="#777" stroke-width="0.5" />
<text x="187.10" y="290.70" font-size="3.3" text-anchor="end" font-weight="normal" fill="#555" >150</text>
<line x1="188.10" y1="289.50" x2="189.10" y2="289.50" stroke="#777" stroke-width="0.5" />
<text x="187.10" y="302.20" font-size="3.3" text-anchor="end" font-weight="normal" fill="#555" >100</text>
<line x1="188.10" y1="301.00" x2="189.10" y2="301.00" stroke="#777" stroke-width="0.5" />
<text x="187.10" y="313.70" font-size="3.3" text-anchor="end" font-weight="normal" fill="#555" >50</text>
<line x1="188.10" y1="312.50" x2="189.10" y2="312.50" stroke="#777" stroke-width="0.5" />
<text x="187.10" y="325.20" font-size="3.3" text-anchor="end" font-weight="normal" fill="#555" >0</text>
<line x1="188.10" y1="324.00" x2="189.10" y2="324.00" stroke="#777" stroke-width="0.5" />
<text x="195.80" y="328.70" font-size="3.3" text-anchor="middle" font-weight="normal" fill="#666" >0</text>
<text x="202.50" y="328.70" font-size="3.3" text-anchor="middle" font-weight="normal" fill="#666" >10<tspan font-size="2.2" dy="-1">2</tspan></text>
<text x="217.00" y="328.70" font-size="3.3" text-anchor="middle" font-weight="normal" fill="#666" >10<tspan font-size="2.2" dy="-1">3</tspan></text>
<text x="231.50" y="328.70" font-size="3.3" text-anchor="middle" font-weight="normal" fill="#666" >10<tspan font-size="2.2" dy="-1">4</tspan></text>
<text x="244.90" y="328.70" font-size="3.3" text-anchor="middle" font-weight="normal" fill="#666" >10<tspan font-size="2.2" dy="-1">5</tspan></text>
<line x1="42.20" y1="336.20" x2="247.50" y2="336.20" stroke="#000" stroke-width="1.4" />
<path d="M251.8,336.2 L246.6,333.8 L246.6,338.6 Z" fill="#000" stroke="none" stroke-width="1" />
<text x="146.20" y="344.90" font-size="7" text-anchor="middle" font-weight="normal" fill="#111" >BrdU</text>
<g>
<rect x="360.30" y="24.00" width="52.70" height="13.60" fill="#d2d2d2" stroke="none" stroke-width="1" />
<rect x="420.50" y="24.00" width="50.30" height="13.60" fill="#d0d0d0" stroke="none" stroke-width="1" />
<rect x="382.00" y="25.50" width="14.00" height="9.00" rx="2.50" fill="#c4c4c4" opacity="0.9" filter="url(#b2)"/>
<rect x="400.50" y="30.30" width="11.30" height="2.40" rx="1.20" fill="#3c3c3c" opacity="0.95" filter="url(#b1)"/>
<rect x="400.80" y="30.70" width="3.70" height="2.60" rx="1.30" fill="#1e1e1e" opacity="0.9" filter="url(#b1)"/>
<rect x="407.50" y="29.50" width="4.50" height="3.00" rx="1.50" fill="#111" opacity="0.95" filter="url(#b1)"/>
<rect x="401.00" y="32.90" width="10.00" height="2.60" rx="1.30" fill="#a8a8a8" opacity="0.7" filter="url(#b2)"/>
<rect x="404.50" y="35.80" width="3.00" height="1.60" rx="0.80" fill="#222" opacity="0.9" filter="url(#b1)"/>
<rect x="437.00" y="25.50" width="14.00" height="8.00" rx="2.50" fill="#b8b8b8" opacity="0.9" filter="url(#b2)"/>
<rect x="455.00" y="25.50" width="13.00" height="8.00" rx="2.50" fill="#b0b0b0" opacity="0.9" filter="url(#b2)"/>
<rect x="361.20" y="34.00" width="2.20" height="1.50" fill="#000" stroke="none" stroke-width="1" />
<rect x="360.30" y="39.30" width="52.70" height="12.70" fill="#e6e6e6" stroke="none" stroke-width="1" />
<rect x="420.50" y="39.30" width="50.30" height="12.70" fill="#e4e4e4" stroke="none" stroke-width="1" />
<rect x="383.00" y="39.00" width="12.50" height="6.00" rx="2.50" fill="#3a3a3a" opacity="0.9" filter="url(#b2)"/>
<rect x="365.20" y="42.60" width="14.50" height="6.20" rx="2.60" fill="#0a0a0a" opacity="1" filter="url(#b1)"/>
<rect x="382.30" y="42.60" width="13.00" height="6.20" rx="2.60" fill="#0a0a0a" opacity="1" filter="url(#b1)"/>
<rect x="398.10" y="42.60" width="14.00" height="6.20" rx="2.60" fill="#0a0a0a" opacity="1" filter="url(#b1)"/>
<rect x="420.60" y="42.60" width="13.90" height="6.40" rx="2.60" fill="#0a0a0a" opacity="1" filter="url(#b1)"/>
<rect x="437.00" y="42.60" width="14.00" height="6.40" rx="2.60" fill="#0a0a0a" opacity="1" filter="url(#b1)"/>
<rect x="454.00" y="42.60" width="13.60" height="6.40" rx="2.60" fill="#0a0a0a" opacity="1" filter="url(#b1)"/>
<rect x="411.60" y="49.00" width="1.60" height="1.60" fill="#000" stroke="none" stroke-width="1" />
<rect x="360.30" y="61.90" width="52.70" height="12.80" fill="#c6c6c6" stroke="none" stroke-width="1" />
<rect x="420.50" y="61.90" width="50.30" height="12.80" fill="#a4a4a4" stroke="none" stroke-width="1" />
<rect x="383.00" y="61.00" width="14.00" height="10.00" rx="2.50" fill="#9a9a9a" opacity="0.9" filter="url(#b2)"/>
<rect x="399.00" y="62.00" width="13.50" height="10.00" rx="2.50" fill="#b4b4b4" opacity="0.8" filter="url(#b2)"/>
<rect x="365.00" y="68.60" width="15.00" height="2.20" rx="1.10" fill="#8e8e8e" opacity="1.0" filter="url(#b1)"/>
<rect x="383.00" y="68.40" width="13.50" height="2.60" rx="1.30" fill="#1e1e1e" opacity="1.0" filter="url(#b1)"/>
<rect x="399.50" y="68.40" width="13.50" height="2.40" rx="1.20" fill="#262626" opacity="1.0" filter="url(#b1)"/>
<rect x="423.50" y="62.80" width="15.00" height="11.00" rx="1.50" fill="#7e7e7e" opacity="1" filter="url(#b15)"/>
<rect x="440.50" y="62.80" width="15.00" height="11.00" rx="1.50" fill="#7c7c7c" opacity="1" filter="url(#b15)"/>
<rect x="457.50" y="62.80" width="13.50" height="11.00" rx="1.50" fill="#707070" opacity="1" filter="url(#b15)"/>
<rect x="360.30" y="78.00" width="52.70" height="13.60" fill="#d6d6d6" stroke="none" stroke-width="1" />
<rect x="420.50" y="78.00" width="50.30" height="13.60" fill="#c2c2c2" stroke="none" stroke-width="1" />
<rect x="383.00" y="78.50" width="13.00" height="6.00" rx="2.50" fill="#c4c4c4" opacity="0.9" filter="url(#b2)"/>
<rect x="364.50" y="83.50" width="15.00" height="2.60" rx="1.30" fill="#0a0a0a" opacity="1.0" filter="url(#b1)"/>
<rect x="382.50" y="83.50" width="13.00" height="2.60" rx="1.30" fill="#0a0a0a" opacity="1.0" filter="url(#b1)"/>
<rect x="398.50" y="83.50" width="14.00" height="2.60" rx="1.30" fill="#0a0a0a" opacity="1.0" filter="url(#b1)"/>
<rect x="421.00" y="83.10" width="13.50" height="2.40" rx="1.20" fill="#151515" opacity="1.0" filter="url(#b1)"/>
<rect x="437.50" y="83.10" width="14.50" height="2.40" rx="1.20" fill="#151515" opacity="1.0" filter="url(#b1)"/>
<rect x="455.00" y="83.10" width="14.00" height="2.40" rx="1.20" fill="#151515" opacity="1.0" filter="url(#b1)"/>
<rect x="360.30" y="101.90" width="52.70" height="20.50" fill="#cccccc" stroke="none" stroke-width="1" />
<rect x="420.50" y="101.90" width="50.30" height="20.50" fill="#cecece" stroke="none" stroke-width="1" />
<rect x="361.00" y="102.50" width="20.00" height="19.00" rx="1.00" fill="#dcdcdc" opacity="1" filter="url(#b2)"/>
<rect x="383.00" y="108.20" width="13.00" height="1.80" rx="0.90" fill="#b0b0b0" opacity="1.0" filter="url(#b1)"/>
<circle cx="392.6" cy="109.1" r="1.4" fill="#111" filter="url(#b1)"/>
<rect x="399.00" y="108.00" width="14.00" height="2.20" rx="1.10" fill="#858585" opacity="1.0" filter="url(#b1)"/>
<rect x="365.00" y="119.10" width="15.00" height="2.40" rx="1.20" fill="#bcbcbc" opacity="1.0" filter="url(#b1)"/>
<rect x="383.00" y="117.80" width="12.50" height="3.60" rx="1.80" fill="#262626" opacity="1" filter="url(#b1)"/>
<rect x="383.00" y="116.90" width="6.00" height="4.60" rx="2.00" fill="#1a1a1a" opacity="0.9" filter="url(#b1)"/>
<rect x="398.50" y="116.50" width="14.50" height="5.40" rx="2.60" fill="#0a0a0a" opacity="1" filter="url(#b1)"/>
<rect x="423.00" y="108.10" width="11.50" height="2.00" rx="1.00" fill="#707070" opacity="1.0" filter="url(#b1)"/>
<rect x="438.00" y="107.90" width="14.00" height="2.40" rx="1.20" fill="#3a3a3a" opacity="1.0" filter="url(#b1)"/>
<rect x="455.00" y="107.30" width="13.50" height="2.60" rx="1.30" fill="#2a2a2a" opacity="1.0" filter="url(#b1)"/>
<rect x="421.00" y="116.40" width="14.00" height="4.60" rx="2.30" fill="#0a0a0a" opacity="1" filter="url(#b1)"/>
<rect x="438.00" y="116.45" width="14.00" height="5.50" rx="2.60" fill="#0a0a0a" opacity="1" filter="url(#b1)"/>
<rect x="455.00" y="115.50" width="14.50" height="6.00" rx="2.60" fill="#0a0a0a" opacity="1" filter="url(#b1)"/>
</g>
<text x="389.30" y="8.30" font-size="7" text-anchor="middle" font-weight="normal" fill="#111" >+/+</text>
<text x="445.90" y="8.30" font-size="7" text-anchor="middle" font-weight="normal" fill="#111" >MTS/MTS</text>
<line x1="365.60" y1="12.50" x2="411.70" y2="12.50" stroke="#000" stroke-width="1.8" />
<line x1="421.50" y1="12.50" x2="467.10" y2="12.50" stroke="#000" stroke-width="1.8" />
<text x="370.60" y="22.60" font-size="7" text-anchor="middle" font-weight="normal" fill="#111" >-</text>
<text x="389.10" y="22.60" font-size="7" text-anchor="middle" font-weight="normal" fill="#111" >2'</text>
<text x="406.40" y="22.60" font-size="7" text-anchor="middle" font-weight="normal" fill="#111" >10'</text>
<text x="433.60" y="22.60" font-size="7" text-anchor="middle" font-weight="normal" fill="#111" >-</text>
<text x="447.00" y="22.60" font-size="7" text-anchor="middle" font-weight="normal" fill="#111" >2'</text>
<text x="463.20" y="22.60" font-size="7" text-anchor="middle" font-weight="normal" fill="#111" >10'</text>
<text x="331.70" y="33.80" font-size="6.8" text-anchor="start" font-weight="normal" fill="#111"  textLength="23.60" lengthAdjust="spacingAndGlyphs">pPLC&#947;1</text>
<text x="333.70" y="46.70" font-size="6.8" text-anchor="start" font-weight="normal" fill="#111"  textLength="19.60" lengthAdjust="spacingAndGlyphs">PLC&#947;1</text>
<text x="327.90" y="69.60" font-size="6.8" text-anchor="start" font-weight="normal" fill="#111"  textLength="26.60" lengthAdjust="spacingAndGlyphs">pSLP-76</text>
<text x="331.80" y="84.30" font-size="6.8" text-anchor="start" font-weight="normal" fill="#111"  textLength="23.10" lengthAdjust="spacingAndGlyphs">SLP-76</text>
<text x="334.60" y="115.40" font-size="6.8" text-anchor="start" font-weight="normal" fill="#111"  textLength="18.10" lengthAdjust="spacingAndGlyphs">pERK</text>
<text x="475.80" y="34.10" font-size="6.8" text-anchor="start" font-weight="normal" fill="#111"  textLength="16.30" lengthAdjust="spacingAndGlyphs">Y783</text>
<text x="475.10" y="69.50" font-size="6.8" text-anchor="start" font-weight="normal" fill="#111"  textLength="16.00" lengthAdjust="spacingAndGlyphs">Y128</text>
<text x="474.80" y="115.70" font-size="6.8" text-anchor="start" font-weight="normal" fill="#111"  textLength="33.50" lengthAdjust="spacingAndGlyphs">T202/Y204</text>
<line x1="322.60" y1="149.30" x2="516.30" y2="149.30" stroke="#777" stroke-width="0.8" />
<line x1="516.30" y1="149.30" x2="516.30" y2="216.80" stroke="#777" stroke-width="0.8" />
<line x1="322.10" y1="216.80" x2="516.60" y2="216.80" stroke="#8a8a8a" stroke-width="1.3" />
<line x1="322.60" y1="149.00" x2="322.60" y2="219.20" stroke="#111" stroke-width="1.1" />
<line x1="321.30" y1="215.17" x2="322.60" y2="215.17" stroke="#222" stroke-width="0.8" />
<line x1="320.40" y1="211.80" x2="322.60" y2="211.80" stroke="#222" stroke-width="0.8" />
<line x1="321.30" y1="208.43" x2="322.60" y2="208.43" stroke="#222" stroke-width="0.8" />
<line x1="321.30" y1="205.06" x2="322.60" y2="205.06" stroke="#222" stroke-width="0.8" />
<line x1="321.30" y1="201.69" x2="322.60" y2="201.69" stroke="#222" stroke-width="0.8" />
<line x1="320.40" y1="198.32" x2="322.60" y2="198.32" stroke="#222" stroke-width="0.8" />
<line x1="321.30" y1="194.95" x2="322.60" y2="194.95" stroke="#222" stroke-width="0.8" />
<line x1="321.30" y1="191.58" x2="322.60" y2="191.58" stroke="#222" stroke-width="0.8" />
<line x1="321.30" y1="188.21" x2="322.60" y2="188.21" stroke="#222" stroke-width="0.8" />
<line x1="320.40" y1="184.84" x2="322.60" y2="184.84" stroke="#222" stroke-width="0.8" />
<line x1="321.30" y1="181.47" x2="322.60" y2="181.47" stroke="#222" stroke-width="0.8" />
<line x1="321.30" y1="178.10" x2="322.60" y2="178.10" stroke="#222" stroke-width="0.8" />
<line x1="321.30" y1="174.73" x2="322.60" y2="174.73" stroke="#222" stroke-width="0.8" />
<line x1="320.40" y1="171.36" x2="322.60" y2="171.36" stroke="#222" stroke-width="0.8" />
<line x1="321.30" y1="167.99" x2="322.60" y2="167.99" stroke="#222" stroke-width="0.8" />
<line x1="321.30" y1="164.62" x2="322.60" y2="164.62" stroke="#222" stroke-width="0.8" />
<line x1="321.30" y1="161.25" x2="322.60" y2="161.25" stroke="#222" stroke-width="0.8" />
<line x1="320.40" y1="157.88" x2="322.60" y2="157.88" stroke="#222" stroke-width="0.8" />
<line x1="321.30" y1="154.51" x2="322.60" y2="154.51" stroke="#222" stroke-width="0.8" />
<text x="318.60" y="213.90" font-size="6.0" text-anchor="end" font-weight="bold" fill="#222" >200</text>
<text x="318.60" y="200.42" font-size="6.0" text-anchor="end" font-weight="bold" fill="#222" >300</text>
<text x="318.60" y="186.94" font-size="6.0" text-anchor="end" font-weight="bold" fill="#222" >400</text>
<text x="318.60" y="173.46" font-size="6.0" text-anchor="end" font-weight="bold" fill="#222" >500</text>
<text x="318.60" y="159.98" font-size="6.0" text-anchor="end" font-weight="bold" fill="#222" >600</text>
<line x1="322.70" y1="216.80" x2="322.70" y2="219.00" stroke="#222" stroke-width="0.8" />
<line x1="336.18" y1="216.80" x2="336.18" y2="218.10" stroke="#222" stroke-width="0.8" />
<line x1="349.66" y1="216.80" x2="349.66" y2="218.10" stroke="#222" stroke-width="0.8" />
<line x1="363.15" y1="216.80" x2="363.15" y2="218.10" stroke="#222" stroke-width="0.8" />
<line x1="376.63" y1="216.80" x2="376.63" y2="219.00" stroke="#222" stroke-width="0.8" />
<line x1="390.11" y1="216.80" x2="390.11" y2="218.10" stroke="#222" stroke-width="0.8" />
<line x1="403.59" y1="216.80" x2="403.59" y2="218.10" stroke="#222" stroke-width="0.8" />
<line x1="417.08" y1="216.80" x2="417.08" y2="218.10" stroke="#222" stroke-width="0.8" />
<line x1="430.56" y1="216.80" x2="430.56" y2="219.00" stroke="#222" stroke-width="0.8" />
<line x1="444.04" y1="216.80" x2="444.04" y2="218.10" stroke="#222" stroke-width="0.8" />
<line x1="457.52" y1="216.80" x2="457.52" y2="218.10" stroke="#222" stroke-width="0.8" />
<line x1="471.01" y1="216.80" x2="471.01" y2="218.10" stroke="#222" stroke-width="0.8" />
<line x1="484.49" y1="216.80" x2="484.49" y2="219.00" stroke="#222" stroke-width="0.8" />
<line x1="497.97" y1="216.80" x2="497.97" y2="218.10" stroke="#222" stroke-width="0.8" />
<line x1="511.45" y1="216.80" x2="511.45" y2="218.10" stroke="#222" stroke-width="0.8" />
<text x="322.70" y="228.30" font-size="6.0" text-anchor="middle" font-weight="bold" fill="#222" >0</text>
<text x="376.63" y="228.30" font-size="6.0" text-anchor="middle" font-weight="bold" fill="#222" >100</text>
<text x="430.56" y="228.30" font-size="6.0" text-anchor="middle" font-weight="bold" fill="#222" >200</text>
<text x="484.49" y="228.30" font-size="6.0" text-anchor="middle" font-weight="bold" fill="#222" >300</text>
<text x="418.00" y="238.00" font-size="7" text-anchor="middle" font-weight="normal" fill="#111" >Time (sec)</text>
<text x="0.00" y="0.00" font-size="7.0" text-anchor="middle" font-weight="normal" fill="#111" transform="translate(304.6,185.4) rotate(-90)">[Ca<tspan font-size="4" dy="-2.2">2+</tspan><tspan dy="2.2">]</tspan><tspan font-size="4" dy="1.2">i</tspan><tspan dy="-1.2"> (FL5/FL4)</tspan></text>
<path d="M322.70,213.80 L323.93,213.53 L325.16,213.78 L326.39,214.00 L327.62,213.61 L328.85,213.92 L330.08,213.80 L331.31,213.44 L332.54,213.85 L333.77,213.68 L335.00,213.60 L336.25,213.85 L337.50,213.71 L338.75,213.72 L340.00,213.47 L341.25,213.74 L342.50,213.81 L343.75,213.76 L345.00,213.50 L346.25,213.68 L347.50,213.51 L348.75,213.27 L350.00,213.50 L351.25,213.22 L352.50,213.23 L353.75,213.30 L355.00,213.26 L356.25,213.46 L357.50,213.57 L358.75,213.46 L360.00,213.39 L361.25,213.51 L362.50,213.30 L363.75,213.39 L365.00,213.40 L366.45,213.53 L367.90,213.29 L369.35,213.13 L370.80,213.30 L372.40,213.04 L374.00,212.30 L375.50,212.00 L377.00,211.35 L378.50,211.00 L379.72,210.72 L380.94,210.62 L382.16,210.46 L383.38,210.03 L384.60,210.00 L385.83,209.73 L387.07,209.89 L388.30,210.27 L389.53,209.92 L390.77,210.14 L392.00,210.20 L393.33,210.07 L394.67,210.13 L396.00,210.15 L397.33,210.34 L398.67,210.25 L400.00,210.50 L401.25,210.28 L402.50,210.39 L403.75,210.49 L405.00,210.74 L406.25,210.55 L407.50,210.59 L408.75,210.91 L410.00,211.00 L411.25,211.01 L412.50,211.25 L413.75,210.92 L415.00,211.19 L416.25,211.25 L417.50,211.09 L418.75,211.72 L420.00,211.50 L421.25,211.38 L422.50,211.36 L423.75,211.63 L425.00,211.50 L426.25,211.82 L427.50,211.71 L428.75,211.62 L430.00,211.90 L431.25,211.68 L432.50,212.14 L433.75,211.92 L435.00,212.27 L436.25,212.13 L437.50,212.46 L438.75,212.13 L440.00,212.30 L441.25,212.15 L442.50,212.16 L443.75,212.49 L445.00,212.38 L446.25,212.21 L447.50,212.06 L448.75,212.41 L450.00,212.30 L451.25,212.62 L452.50,212.43 L453.75,212.11 L455.00,212.17 L456.25,212.24 L457.50,212.33 L458.75,212.28 L460.00,212.60 L461.25,212.33 L462.50,212.69 L463.75,212.84 L465.00,212.42 L466.25,212.88 L467.50,212.59 L468.75,212.78 L470.00,212.60 L471.21,212.84 L472.42,212.84 L473.63,212.29 L474.84,212.44 L476.06,212.61 L477.27,212.80 L478.48,212.27 L479.69,212.39 L480.90,212.50 L482.40,210.71 L483.90,208.50 L485.35,204.37 L486.80,200.70 L488.25,196.73 L489.70,192.90 L491.15,188.90 L492.60,185.10 L493.83,184.73 L495.05,184.41 L496.27,183.48 L497.50,183.20 L498.98,182.84 L500.45,182.34 L501.92,181.90 L503.40,181.20 L504.88,180.51 L506.35,180.00 L507.82,178.94 L509.30,178.30 L510.66,177.65 L512.02,176.94 L513.38,176.67 L514.74,175.89 L516.10,175.30" fill="none" stroke="#aaaaaa" stroke-width="1.5" stroke-linejoin="round"/>
<path d="M322.70,210.80 L330.00,211.10 L339.60,211.30 L350.00,211.70 L362.00,212.00 L364.60,211.20 L366.50,208.50 L368.90,202.80 L371.30,195.00 L373.20,189.10 L376.70,183.30 L380.60,179.40 L384.60,176.60 L388.50,175.50 L391.00,175.90 L395.10,178.10 L400.00,180.80 L405.20,183.60 L410.00,185.30 L415.30,186.80 L425.40,189.60 L435.50,191.90 L445.60,193.70 L455.70,194.90 L465.80,195.90 L475.90,196.90 L484.50,197.80 L485.80,191.90 L486.80,199.30 L488.70,192.90 L490.10,183.20 L491.30,172.40 L493.60,167.50 L497.50,163.60 L501.40,159.70 L505.30,155.80 L508.30,153.50 L512.20,153.50 L516.10,155.40" fill="none" stroke="#000" stroke-width="1.7" stroke-linejoin="round"/>
<line x1="363.00" y1="185.20" x2="363.00" y2="199.30" stroke="#000" stroke-width="1.4" />
<path d="M360.40,198.80 L365.60,198.80 L363.00,203.80 Z" fill="#000" stroke="none" stroke-width="1" />
<line x1="480.30" y1="169.80" x2="480.30" y2="184.10" stroke="#000" stroke-width="1.4" />
<path d="M477.70,183.60 L482.90,183.60 L480.30,188.60 Z" fill="#000" stroke="none" stroke-width="1" />
<text x="348.50" y="170.40" font-size="6.8" text-anchor="start" font-weight="normal" fill="#111"  textLength="30.50" lengthAdjust="spacingAndGlyphs">CD3+CD4</text>
<text x="348.50" y="177.80" font-size="6.8" text-anchor="start" font-weight="normal" fill="#111"  textLength="25.80" lengthAdjust="spacingAndGlyphs">X-linking</text>
<text x="463.60" y="165.60" font-size="6.8" text-anchor="start" font-weight="normal" fill="#111"  textLength="30.80" lengthAdjust="spacingAndGlyphs">Ionomycin</text>
<line x1="325.30" y1="265.50" x2="325.30" y2="326.40" stroke="#111" stroke-width="1.3" />
<line x1="324.80" y1="325.90" x2="415.20" y2="325.90" stroke="#111" stroke-width="1.3" />
<line x1="323.30" y1="311.10" x2="325.30" y2="311.10" stroke="#111" stroke-width="1.0" />
<text x="322.90" y="313.20" font-size="6.0" text-anchor="end" font-weight="bold" fill="#222" >25</text>
<line x1="323.30" y1="296.30" x2="325.30" y2="296.30" stroke="#111" stroke-width="1.0" />
<text x="322.90" y="298.40" font-size="6.0" text-anchor="end" font-weight="bold" fill="#222" >50</text>
<line x1="323.30" y1="281.50" x2="325.30" y2="281.50" stroke="#111" stroke-width="1.0" />
<text x="322.90" y="283.60" font-size="6.0" text-anchor="end" font-weight="bold" fill="#222" >75</text>
<line x1="323.30" y1="266.70" x2="325.30" y2="266.70" stroke="#111" stroke-width="1.0" />
<text x="322.90" y="268.80" font-size="6.0" text-anchor="end" font-weight="bold" fill="#222" >100</text>
<text x="366.40" y="263.20" font-size="7" text-anchor="middle" font-weight="normal" fill="#111" >CD69</text>
<path d="M334.50,310.50 L353.00,310.50 L370.20,305.40 L388.80,297.20" fill="none" stroke="#7a7a7a" stroke-width="1.5" />
<line x1="334.50" y1="307.00" x2="334.50" y2="314.40" stroke="#8a8a8a" stroke-width="0.9" />
<line x1="333.10" y1="307.00" x2="335.90" y2="307.00" stroke="#8a8a8a" stroke-width="0.9" />
<line x1="333.10" y1="314.40" x2="335.90" y2="314.40" stroke="#8a8a8a" stroke-width="0.9" />
<circle cx="334.50" cy="310.50" r="1.3" fill="#8a8a8a"/>
<line x1="353.00" y1="307.00" x2="353.00" y2="314.40" stroke="#8a8a8a" stroke-width="0.9" />
<line x1="351.60" y1="307.00" x2="354.40" y2="307.00" stroke="#8a8a8a" stroke-width="0.9" />
<line x1="351.60" y1="314.40" x2="354.40" y2="314.40" stroke="#8a8a8a" stroke-width="0.9" />
<circle cx="353.00" cy="310.50" r="1.3" fill="#8a8a8a"/>
<line x1="370.20" y1="295.20" x2="370.20" y2="308.00" stroke="#8a8a8a" stroke-width="0.9" />
<line x1="368.80" y1="295.20" x2="371.60" y2="295.20" stroke="#8a8a8a" stroke-width="0.9" />
<line x1="368.80" y1="308.00" x2="371.60" y2="308.00" stroke="#8a8a8a" stroke-width="0.9" />
<circle cx="370.20" cy="305.40" r="1.3" fill="#8a8a8a"/>
<line x1="388.80" y1="293.70" x2="388.80" y2="300.60" stroke="#8a8a8a" stroke-width="0.9" />
<line x1="387.40" y1="293.70" x2="390.20" y2="293.70" stroke="#8a8a8a" stroke-width="0.9" />
<line x1="387.40" y1="300.60" x2="390.20" y2="300.60" stroke="#8a8a8a" stroke-width="0.9" />
<circle cx="388.80" cy="297.20" r="1.3" fill="#8a8a8a"/>
<line x1="407.40" y1="281.90" x2="407.40" y2="287.40" stroke="#8a8a8a" stroke-width="0.9" />
<line x1="406.00" y1="281.90" x2="408.80" y2="281.90" stroke="#8a8a8a" stroke-width="0.9" />
<line x1="406.00" y1="287.40" x2="408.80" y2="287.40" stroke="#8a8a8a" stroke-width="0.9" />
<circle cx="407.40" cy="284.50" r="1.3" fill="#8a8a8a"/>
<path d="M334.50,322.20 L353.00,321.30 L370.20,299.10 L388.80,271.20" fill="none" stroke="#000" stroke-width="1.6" />
<rect x="333.10" y="320.80" width="2.80" height="2.80" fill="#000" stroke="none" stroke-width="1" />
<rect x="351.60" y="319.90" width="2.80" height="2.80" fill="#000" stroke="none" stroke-width="1" />
<rect x="368.80" y="297.70" width="2.80" height="2.80" fill="#000" stroke="none" stroke-width="1" />
<rect x="387.40" y="269.80" width="2.80" height="2.80" fill="#000" stroke="none" stroke-width="1" />
<rect x="406.20" y="271.30" width="2.40" height="4.00" fill="#000" stroke="none" stroke-width="1" />
<text x="0.00" y="0.00" font-size="6.4" text-anchor="end" font-weight="bold" fill="#222" transform="translate(334.90,332.30) rotate(-45)">0</text>
<text x="0.00" y="0.00" font-size="6.4" text-anchor="end" font-weight="bold" fill="#222" transform="translate(353.40,332.30) rotate(-45)">0.001</text>
<text x="0.00" y="0.00" font-size="6.4" text-anchor="end" font-weight="bold" fill="#222" transform="translate(370.60,332.30) rotate(-45)">0.01</text>
<text x="0.00" y="0.00" font-size="6.4" text-anchor="end" font-weight="bold" fill="#222" transform="translate(389.20,332.30) rotate(-45)">0.1</text>
<text x="0.00" y="0.00" font-size="6.4" text-anchor="end" font-weight="bold" fill="#222" transform="translate(407.80,332.30) rotate(-45)">P + I</text>
<text x="361.00" y="354.40" font-size="7" text-anchor="middle" font-weight="normal" fill="#111" >[anti-CD3] (&#956;g/mL)</text>
<line x1="429.60" y1="265.70" x2="429.60" y2="326.40" stroke="#111" stroke-width="1.3" />
<line x1="429.10" y1="325.90" x2="518.00" y2="325.90" stroke="#111" stroke-width="1.3" />
<line x1="427.60" y1="311.15" x2="429.60" y2="311.15" stroke="#111" stroke-width="1.0" />
<text x="427.20" y="313.25" font-size="6.0" text-anchor="end" font-weight="bold" fill="#222" >25</text>
<line x1="427.60" y1="296.40" x2="429.60" y2="296.40" stroke="#111" stroke-width="1.0" />
<text x="427.20" y="298.50" font-size="6.0" text-anchor="end" font-weight="bold" fill="#222" >50</text>
<line x1="427.60" y1="281.65" x2="429.60" y2="281.65" stroke="#111" stroke-width="1.0" />
<text x="427.20" y="283.75" font-size="6.0" text-anchor="end" font-weight="bold" fill="#222" >75</text>
<line x1="427.60" y1="266.90" x2="429.60" y2="266.90" stroke="#111" stroke-width="1.0" />
<text x="427.20" y="269.00" font-size="6.0" text-anchor="end" font-weight="bold" fill="#222" >100</text>
<text x="470.20" y="263.20" font-size="7" text-anchor="middle" font-weight="normal" fill="#111" >CD25</text>
<path d="M438.20,310.50 L456.40,310.90 L474.40,308.00 L492.20,300.70" fill="none" stroke="#7a7a7a" stroke-width="1.5" />
<line x1="438.20" y1="306.80" x2="438.20" y2="313.80" stroke="#8a8a8a" stroke-width="0.9" />
<line x1="436.80" y1="306.80" x2="439.60" y2="306.80" stroke="#8a8a8a" stroke-width="0.9" />
<line x1="436.80" y1="313.80" x2="439.60" y2="313.80" stroke="#8a8a8a" stroke-width="0.9" />
<circle cx="438.20" cy="310.50" r="1.3" fill="#8a8a8a"/>
<line x1="456.40" y1="306.60" x2="456.40" y2="314.20" stroke="#8a8a8a" stroke-width="0.9" />
<line x1="455.00" y1="306.60" x2="457.80" y2="306.60" stroke="#8a8a8a" stroke-width="0.9" />
<line x1="455.00" y1="314.20" x2="457.80" y2="314.20" stroke="#8a8a8a" stroke-width="0.9" />
<circle cx="456.40" cy="310.90" r="1.3" fill="#8a8a8a"/>
<line x1="474.40" y1="304.90" x2="474.40" y2="310.00" stroke="#8a8a8a" stroke-width="0.9" />
<line x1="473.00" y1="304.90" x2="475.80" y2="304.90" stroke="#8a8a8a" stroke-width="0.9" />
<line x1="473.00" y1="310.00" x2="475.80" y2="310.00" stroke="#8a8a8a" stroke-width="0.9" />
<circle cx="474.40" cy="308.00" r="1.3" fill="#8a8a8a"/>
<line x1="492.20" y1="296.60" x2="492.20" y2="303.80" stroke="#8a8a8a" stroke-width="0.9" />
<line x1="490.80" y1="296.60" x2="493.60" y2="296.60" stroke="#8a8a8a" stroke-width="0.9" />
<line x1="490.80" y1="303.80" x2="493.60" y2="303.80" stroke="#8a8a8a" stroke-width="0.9" />
<circle cx="492.20" cy="300.70" r="1.3" fill="#8a8a8a"/>
<circle cx="510.00" cy="291.70" r="1.3" fill="#8a8a8a"/>
<path d="M438.20,320.10 L456.40,320.10 L474.40,311.30 L492.20,275.30" fill="none" stroke="#000" stroke-width="1.6" />
<rect x="436.80" y="318.70" width="2.80" height="2.80" fill="#000" stroke="none" stroke-width="1" />
<rect x="455.00" y="318.70" width="2.80" height="2.80" fill="#000" stroke="none" stroke-width="1" />
<line x1="474.40" y1="305.40" x2="474.40" y2="316.70" stroke="#222" stroke-width="0.9" />
<line x1="473.00" y1="305.40" x2="475.80" y2="305.40" stroke="#222" stroke-width="0.9" />
<line x1="473.00" y1="316.70" x2="475.80" y2="316.70" stroke="#222" stroke-width="0.9" />
<rect x="473.00" y="309.90" width="2.80" height="2.80" fill="#000" stroke="none" stroke-width="1" />
<line x1="492.20" y1="271.40" x2="492.20" y2="277.70" stroke="#222" stroke-width="0.9" />
<line x1="490.80" y1="271.40" x2="493.60" y2="271.40" stroke="#222" stroke-width="0.9" />
<line x1="490.80" y1="277.70" x2="493.60" y2="277.70" stroke="#222" stroke-width="0.9" />
<rect x="490.80" y="273.90" width="2.80" height="2.80" fill="#000" stroke="none" stroke-width="1" />
<rect x="508.80" y="277.90" width="2.40" height="3.40" fill="#000" stroke="none" stroke-width="1" />
<text x="0.00" y="0.00" font-size="6.4" text-anchor="end" font-weight="bold" fill="#222" transform="translate(438.60,332.30) rotate(-45)">0</text>
<text x="0.00" y="0.00" font-size="6.4" text-anchor="end" font-weight="bold" fill="#222" transform="translate(456.80,332.30) rotate(-45)">0.001</text>
<text x="0.00" y="0.00" font-size="6.4" text-anchor="end" font-weight="bold" fill="#222" transform="translate(474.80,332.30) rotate(-45)">0.01</text>
<text x="0.00" y="0.00" font-size="6.4" text-anchor="end" font-weight="bold" fill="#222" transform="translate(492.60,332.30) rotate(-45)">0.1</text>
<text x="0.00" y="0.00" font-size="6.4" text-anchor="end" font-weight="bold" fill="#222" transform="translate(510.40,332.30) rotate(-45)">P + I</text>
<text x="468.10" y="354.40" font-size="7" text-anchor="middle" font-weight="normal" fill="#111" >[anti-CD3] (&#956;g/mL)</text>
<text x="0.00" y="0.00" font-size="7" text-anchor="middle" font-weight="normal" fill="#111" transform="translate(312.0,291.0) rotate(-90)">% Positive</text>
</svg>
</body></html>
